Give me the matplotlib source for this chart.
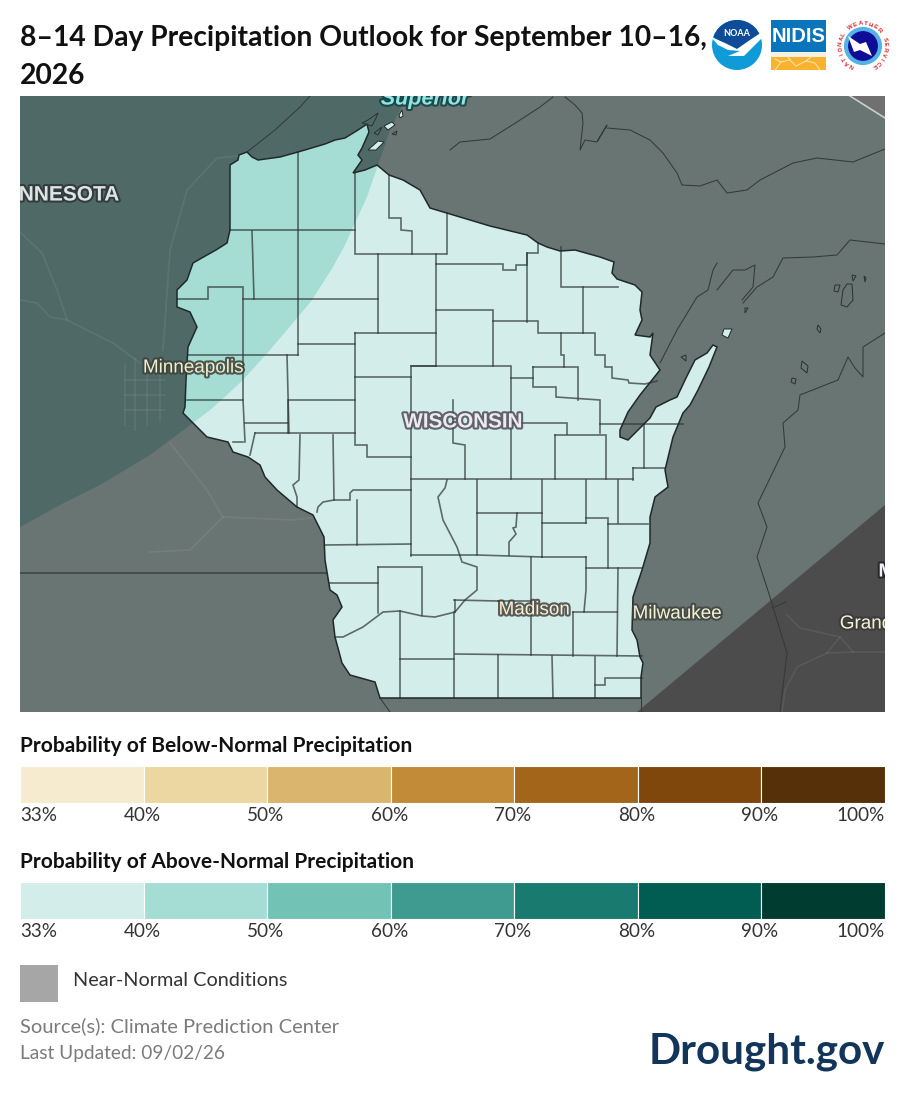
import matplotlib
matplotlib.use("Agg")
import matplotlib.pyplot as plt
import matplotlib.patheffects as pe
from matplotlib.patches import Polygon, Rectangle, Circle
from matplotlib.transforms import ScaledTranslation
import numpy as np

W, H = 905, 1104
FONT = "Lato"

TITLE = "8–14 Day Precipitation Outlook for September 10–16,\n2026"
BELOW_TITLE = "Probability of Below-Normal Precipitation"
ABOVE_TITLE = "Probability of Above-Normal Precipitation"
NEAR_LABEL = "Near-Normal Conditions"
SOURCE = "Source(s): Climate Prediction Center"
UPDATED = "Last Updated: 09/02/26"
BRAND = "Drought.gov"

BREAKS = ["33%", "40%", "50%", "60%", "70%", "80%", "90%", "100%"]
BELOW_COLORS = ["#f6ebcf", "#ecd6a2", "#d9b56e", "#c28b37", "#a26519", "#7f470c", "#553008"]
ABOVE_COLORS = ["#d3eeea", "#a5ddd4", "#72c3b6", "#3f9a8f", "#197a70", "#015c51", "#013c31"]

# Map geometry (map-image coordinates)
WI_OUTLINE = [(230,165),(238,160),(239,155),(247,152),(252,157),(258,160),(280,157),(298,152),(325,144),(335,140),(345,138),(358,130),(367,124),(369,132),
 (362,148),(358,155),(362,160),(353,173),(365,170),(377,165),(389,175),(403,180),(420,190),(430,208),(450,214),(490,226),(527,235),(538,243),(547,247),(560,251),(575,250),
 (600,257),(614,262),(612,273),(617,279),(635,285),(642,292),(640,310),(642,320),(635,335),(650,337),(653,333),(650,355),(660,370),(640,395),(628,412),
 (620,430),(620,437),(628,440),(640,428),(650,418),(656,407),(670,400),(677,397),(686,378),(695,360),(707,353),(713,345),(717,347),(709,367),(698,390),(690,405),(683,413),
 (673,437),(665,470),(668,487),(655,497),(650,517),(650,543),(642,570),(633,597),(632,630),(637,640),(640,657),(643,663),(641,677),(641,698),
 (380,698),(375,682),(350,675),(342,663),(335,637),(333,620),(342,607),(337,595),(330,590),(325,560),(324,537),(313,515),(297,507),(277,490),(265,477),
 (260,465),(248,457),(233,452),(228,442),(207,437),(193,423),(183,413),(185,407),(186,380),(188,347),(197,327),(190,312),(177,307),(177,290),(187,280),(193,263),
 (207,255),(216,250),(227,243),(230,230)]
BAND40_EDGE = [(20,527),(60,505),(100,485),(150,455),(193,423),(210,410),(228,394),(243,380),(270,350),(298,317),(312,300),(333,267),(345,245),(355,223),(367,197),(377,168),(390,130),(400,110),(406,96)]
BAND33_EDGE = [(637,712),(885,505)]
NE_CORNER = [(850,96),(885,118),(885,96)]
COUNTY_LINES = [
 [(298,152),(298,355)],[(230,230),(355,230)],[(355,173),(355,254),(446,254)],[(389,175),(389,218),(401,218),(401,230),(412,231),(412,254)],
 [(447,213),(447,254)],[(252,231),(254,299)],[(177,299),(208,299),(208,287),(243,287),(243,400),(245,442)],[(243,299),(378,299)],[(378,254),(378,333)],
 [(355,333),(436,333)],[(355,333),(355,445),(367,445),(367,457),(411,457)],[(436,254),(436,366)],[(188,355),(298,355)],[(298,344),(355,344)],
 [(287,355),(289,433)],[(289,400),(355,400)],[(187,400),(243,400)],[(355,377),(411,377),(411,366),(436,366)],[(411,366),(511,366),(511,479)],[(411,377),(411,556)],
 [(436,264),(503,264),(503,270),(516,270),(516,265),(527,265),(527,253),(538,253),(538,243)],[(527,253),(527,322)],
 [(436,310),(493,310),(493,366)],[(493,321),(538,321),(538,333),(595,333),(595,355),(605,355),(605,367),(612,367),(612,378),(628,380),(629,383),(645,384),(657,381)],
 [(561,333),(561,355),(564,355),(564,367)],[(561,247),(561,287),(618,287)],[(583,287),(583,333)],[(533,367),(578,367),(578,400)],
 [(533,367),(533,387),(556,387),(556,397),(600,400),(600,433)],[(511,378),(533,378)],[(600,424),(683,424)],[(511,423),(567,423),(567,434)],
 [(555,435),(606,435),(606,479)],[(555,435),(555,479)],[(644,425),(644,468)],[(633,468),(665,468)],[(633,468),(633,480)],[(411,479),(633,479)],
 [(453,400),(453,443),(465,445),(465,479)],[(477,480),(477,555)],[(542,480),(542,557)],[(586,480),(586,523)],[(618,480),(618,523)],
 [(477,513),(542,513)],[(542,523),(586,523)],[(586,518),(608,518),(608,568)],[(608,524),(648,524)],[(586,568),(642,568)],[(586,557),(586,590),(584,612)],
 [(618,568),(617,656)],[(542,557),(586,557)],[(531,557),(531,655)],[(411,555),(477,555),(542,557)],
 [(517,513),(516,527),(513,528),(516,534),(509,542),(509,555)],
 [(447,480),(445,488),(438,497),(443,520),(457,547),(462,562),(477,567),(477,590),(465,600),(455,612),(435,617),(422,616),(400,611),(383,612),(363,627),(343,637),(335,637)],
 [(288,400),(288,433)],[(233,442),(243,442)],[(245,423),(288,423)],[(255,433),(355,433)],[(255,433),(250,455)],
 [(300,435),(299,480),(293,485),(297,497),(297,507)],[(333,435),(334,500),(350,500),(350,493),(353,490),(411,490)],[(334,500),(323,502),(318,507),(317,512)],
 [(357,500),(357,545)],[(325,545),(411,544)],[(330,583),(378,583)],[(378,567),(422,567),(422,615)],[(378,567),(378,613)],
 [(400,611),(400,698)],[(400,659),(454,659)],[(454,612),(454,698)],[(455,654),(642,656)],[(498,655),(498,698)],[(552,656),(553,698)],[(595,657),(595,698)],
 [(595,685),(605,685),(605,678),(642,678)],[(573,612),(573,656)],[(454,600),(498,601)],[(498,601),(531,601)],[(573,612),(617,612)],[(455,612),(455,600)],
]
ISLANDS_LIGHT = [[(384,126),(392,122),(395,125),(388,130)],[(368,150),(378,141),(384,142),(376,150)],[(724,329),(732,329),(728,338),(722,335)],[(399,115),(402,110),(403,116),(400,118)]]
ISLANDS_RING = [[(362,123),(368,120),(378,113),(376,118),(372,126)],[(374,133),(382,127),(378,135)],[(392,134),(397,131),(396,135)],[(681,357),(686,355),(686,361)],
 [(847,284),(852,284),(853,300),(847,307),(841,305),(843,290)],[(835,285),(840,285),(838,292),(834,291)],[(802,361),(808,366),(807,373),(801,368)],[(792,378),(796,379),(795,384),(791,382)],
 [(818,325),(821,329),(820,333),(817,329)],[(745,308),(748,308),(745,313)],[(852,275),(856,276),(853,281)],[(864,276),(866,278),(865,282)]]
COAST_LINES = [
 [(247,152),(275,130),(300,107),(310,96)],
 [(450,150),(460,142),(490,139),(517,122),(540,107),(553,97)],[(565,97),(575,105),(582,113),(583,123),(580,150),(585,140),(597,142),(607,125),(598,140)],
 [(607,128),(630,130),(650,140),(663,153),(677,173),(682,185),(700,186),(717,180),(727,193),(747,190),(760,180),(793,163),(817,158),(853,162),(885,149)],
 [(885,244),(850,240),(837,255),(813,257),(783,258),(773,277),(757,287),(743,303)],[(717,263),(713,270),(708,290),(697,297),(677,330),(660,363)],[(717,290),(733,270),(745,270),(755,265),(753,287),(742,300)],
 [(885,333),(863,347),(863,377),(855,368),(848,357),(838,380),(800,395),(798,410),(783,423),(785,447),(758,503),(767,527),(757,557),(770,597),(787,653),(780,712)],
 [(772,608),(786,602)],[(380,698),(390,712)],[(641,698),(641,712)],
]
STATE_LINE = [(20,573),(327,573)]
ROADS = [[(20,232),(42,253),(57,290),(67,320),(113,343),(140,363)],[(20,300),(37,303),(50,317),(67,320)],[(240,156),(217,158),(187,190),(170,250),(163,350)],
 [(150,552),(190,550),(223,517),(293,520),(317,517)],[(170,443),(207,490),(223,517)],
 [(787,615),(800,628),(840,637),(853,652),(885,652)],[(840,637),(827,653),(797,667),(785,690),(782,712)],[(827,653),(853,652)],
 [(125,365),(125,425)],[(135,358),(135,430)],[(147,360),(147,425)],[(125,380),(165,380)],[(125,395),(165,395)],[(125,410),(165,410)],[(160,365),(160,420)]]
PLACE_LABELS = [
 ("Superior", 425, 99, 16, "#8fe6e6", "italic", "bold", "#13403f"),
 ("NNESOTA", 69, 195, 15.5, "#dfe3e3", "normal", "bold", "#2b3635"),
 ("Minneapolis", 193, 368, 14, "#f2eecb", "normal", "normal", "#3a403a"),
 ("WISCONSIN", 463, 422, 15.3, "#ecebf2", "normal", "bold", "#4d4a55"),
 ("Madison", 534, 610, 14, "#f5f1d5", "normal", "normal", "#45413c"),
 ("Milwaukee", 677, 614, 14, "#f5f1d5", "normal", "normal", "#3f4540"),
 ("Grand", 866, 624, 14, "#f5f1d5", "normal", "normal", "#3a3a3a"),
 ("MI", 889, 572, 14, "#f0f0f8", "normal", "bold", "#222222"),
]
NIDIS_CRACKS = [[(775,70),(781,62),(790,60),(796,66),(806,61),(815,63),(820,70)],[(781,62),(775,59)],[(806,61),(811,57)],[(790,60),(788,57)]]
BASE_DARK, BAND33, BAND40, CORNER = "#4c4c4c", "#697572", "#4f6a66", "#707070"
LAND33, LAND40 = ABOVE_COLORS[0], ABOVE_COLORS[1]
NWS_TEXT = "NATIONAL WEATHER SERVICE"

plt.rcParams["font.family"] = [FONT, "DejaVu Sans"]
fig = plt.figure(figsize=(W/100, H/100), dpi=100, facecolor="white")
page = fig.add_axes([0, 0, 1, 1]); page.set_xlim(0, W); page.set_ylim(H, 0); page.axis("off")

def sub_axes(x0, y0, x1, y1):
    return fig.add_axes([x0/W, 1-y1/H, (x1-x0)/W, (y1-y0)/H])

# ---------- map ----------
m = sub_axes(20, 96, 885, 712)
m.set_xlim(20, 885); m.set_ylim(712, 96); m.axis("off")
m.add_patch(Rectangle((20, 96), 865, 616, fc=BASE_DARK, ec="none", zorder=0))
m.add_patch(Polygon(NE_CORNER, fc=CORNER, ec="none", zorder=0.5))
band33 = BAND33_EDGE + [(885,118),(850,96),(20,96),(20,712)]
m.add_patch(Polygon(band33, fc=BAND33, ec="none", zorder=1))
band40 = BAND40_EDGE + [(20,96)]
m.add_patch(Polygon(band40, fc=BAND40, ec="none", zorder=1.5))
m.plot(*zip(*NE_CORNER[:2]), color="#c9cfcc", lw=1.2, zorder=2)
for r in ROADS:
    m.plot(*zip(*r), color="#ffffff", alpha=0.07, lw=1.2, zorder=2)
m.plot(*zip(*STATE_LINE), color="#454c4a", lw=1.4, zorder=2)
for c in COAST_LINES:
    m.plot(*zip(*c), color="#333b39", lw=0.75, zorder=2.2)
wi = Polygon(WI_OUTLINE, fc=LAND33, ec="none", zorder=3)
m.add_patch(wi)
b40 = Polygon(band40, fc=LAND40, ec="none", zorder=3.2)
m.add_patch(b40); b40.set_clip_path(Polygon(WI_OUTLINE, transform=m.transData))
for seg in COUNTY_LINES:
    m.plot(*zip(*seg), color="#2e3735", alpha=0.72, lw=1.2, zorder=4, solid_joinstyle="miter")
m.add_patch(Polygon(WI_OUTLINE, fc="none", ec="#20282a", lw=1.1, zorder=5))
for isl in ISLANDS_LIGHT:
    m.add_patch(Polygon(isl, fc=LAND33, ec="#222a2a", lw=0.7, zorder=5))
for isl in ISLANDS_RING:
    m.add_patch(Polygon(isl, fc="none", ec="#2a3230", lw=0.7, zorder=5))
for txt, x, y, fs, col, sty, wgt, halo in PLACE_LABELS:
    t = m.text(x, y, txt, fontsize=fs*0.97, color=col, style=sty, fontweight=wgt, ha="center", va="center",
               family=["Liberation Sans", "DejaVu Sans"], zorder=6, clip_on=True)
    t.set_path_effects([pe.withStroke(linewidth=3, foreground=halo, alpha=0.85)])

# ---------- titles / legend text ----------
page.text(20, 38, TITLE.split("\n")[0], fontsize=20.3, fontweight="bold", color="#111111", va="center")
page.text(20, 76, TITLE.split("\n")[1], fontsize=20.3, fontweight="bold", color="#111111", va="center")

def legend_bar(title, colors, ytitle, y0, y1):
    page.text(20, ytitle, title, fontsize=15, fontweight="bold", color="#111111", va="center")
    a = sub_axes(20, y0, 885, y1)
    idx = np.arange(len(colors))
    a.bar(idx, np.ones(len(colors)), width=1, align="edge", color=colors, edgecolor="white", linewidth=0.8)
    a.set_xlim(0, len(colors)); a.set_ylim(0, 1)
    for s in a.spines.values():
        s.set_visible(False)
    a.set_yticks([])
    a.set_xticks(np.arange(len(BREAKS)), BREAKS, fontsize=13.6, color="#333333")
    a.tick_params(axis="x", length=0, pad=3)
    labs = a.get_xticklabels()
    labs[0].set_ha("left"); labs[-1].set_ha("right")
    shift = ScaledTranslation(-1.5/100, 0, fig.dpi_scale_trans)
    for lab in labs[1:-1]:
        lab.set_ha("center")
        lab.set_transform(lab.get_transform() + shift)

legend_bar(BELOW_TITLE, BELOW_COLORS, 746, 766, 803)
legend_bar(ABOVE_TITLE, ABOVE_COLORS, 862, 882, 919)

page.add_patch(Rectangle((20, 965), 38, 37, fc="#a6a6a6", ec="none"))
page.text(73, 981, NEAR_LABEL, fontsize=14.3, color="#333333", va="center")
page.text(20, 1026, SOURCE, fontsize=14.5, color="#7b7b7b", va="center")
page.text(20, 1054, UPDATED, fontsize=13.7, color="#7b7b7b", va="center")
page.text(885, 1052, BRAND, fontsize=30.3, fontweight="bold", color="#14355a", va="center", ha="right")

# ---------- logos ----------
noaa = Circle((737, 45), 25, fc="#0f9bd8", ec="none", zorder=3); page.add_patch(noaa)
dome = Polygon([(712,20),(762,20),(762,33),(750,40),(737,50),(725,44),(712,36)], fc="#0f4c97", ec="none", zorder=4)
page.add_patch(dome); dome.set_clip_path(Circle((737,45), 25, transform=page.transData))
bird = Polygon([(711,37),(725,43),(737,49),(750,40),(762,32),(763,37),(752,48),(744,56),(728,56),(740,51),(728,50),(718,45)], fc="white", ec="none", zorder=5)
page.add_patch(bird); bird.set_clip_path(Circle((737,45), 25.5, transform=page.transData))
page.text(737, 33, "NOAA", fontsize=6.5, fontweight="bold", color="white", ha="center", va="center", zorder=6)

page.add_patch(Rectangle((771, 20), 55, 32, fc="#0b75bb", ec="none", zorder=3))
page.add_patch(Rectangle((771, 52), 55, 5, fc="#f4f1e4", ec="none", zorder=3))
page.add_patch(Rectangle((771, 57), 55, 13, fc="#f8b22e", ec="none", zorder=3))
for crack in NIDIS_CRACKS:
    page.plot(*zip(*crack), color="#fbe3a8", lw=0.8, zorder=4)
page.text(798.5, 37, "NIDIS", fontsize=14.5, fontweight="bold", color="white", ha="center", va="center", zorder=4,
          family=["Liberation Sans"])

page.add_patch(Circle((863, 46), 17, fc="#0d0d96", ec="#55b2e6", lw=3, zorder=3))
page.add_patch(Polygon([(848,36),(860,44),(866,42),(872,56),(860,50),(854,52)], fc="white", ec="none", zorder=4))
n = len(NWS_TEXT)
for i, ch in enumerate(NWS_TEXT):
    ang = np.deg2rad(-150 + 300*i/(n-1))
    x, y = 863 + 22.5*np.sin(ang), 46 - 22.5*np.cos(ang)
    page.text(x, y, ch, fontsize=4.3, fontweight="bold", color="#d8232a", ha="center", va="center",
              rotation=-np.rad2deg(ang), rotation_mode="anchor", zorder=5, family=["Liberation Sans"])

fig.savefig("out.png", dpi=100, facecolor="white")
